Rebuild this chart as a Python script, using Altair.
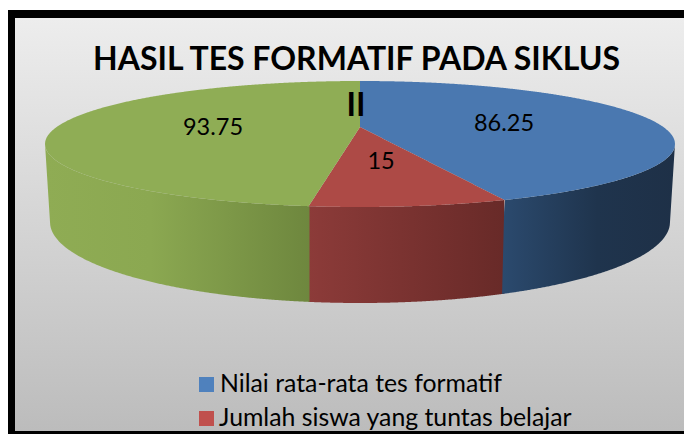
import numpy as np
import pandas as pd
import altair as alt

title_lines = ["HASIL TES FORMATIF PADA SIKLUS", "II"]
value_labels = ["86.25", "15", "93.75"]
values = [86.25, 15, 93.75]
legend_names = ["Nilai rata-rata tes formatif", "Jumlah siswa yang tuntas belajar"]

FONT = "Lato"
# pie geometry in picture pixels
CX, TOPY, A, B = 360.0, 144.0, 315.0, 63.0
LOWY, LA, LB = 222.0, 310.0, 81.0
APEXY = 127.0
K = 1.36  # perspective stretch of angles near the front

xs = alt.X("x:Q", axis=None, scale=alt.Scale(domain=[8, 684], nice=False, zero=False))
ys = alt.Y("y:Q", axis=None, scale=alt.Scale(domain=[434, 8], nice=False, zero=False))
y2 = alt.Y2("y2:Q")


def rim_x(cum):
    phi = np.radians(180.0 - cum / sum(values) * 360.0)
    return CX + A * np.sin(np.arctan(K * np.tan(phi)))


def top_back(x):
    return TOPY - B * np.sqrt(np.clip(1 - ((x - CX) / A) ** 2, 0, 1))


def top_front(x):
    return TOPY + B * np.sqrt(np.clip(1 - ((x - CX) / A) ** 2, 0, 1))


def low_front(x):
    u = (x - CX) / LA
    out = LOWY + LB * np.sqrt(np.clip(1 - u ** 2, 0, 1))
    # silhouette between the top rim tip and the bottom rim tip
    side = np.abs(x - CX) > LA
    frac = (A - np.abs(x - CX)) / (A - LA)
    return np.where(side, TOPY + (LOWY - TOPY) * frac, out)


def grid(a, b):
    g = np.unique(np.concatenate([np.arange(a, b, 1.0), [a, b]]))
    for tip in (CX - A, CX + A, CX - LA, CX + LA):
        g = np.concatenate([g, np.linspace(tip - 3, tip + 3, 25)])
    g = g[(g >= a) & (g <= b)]
    return np.unique(g)


r1 = float(rim_x(values[0]))
r2 = float(rim_x(values[0] + values[1]))
y_r1, y_r2 = float(top_front(r1)), float(top_front(r2))


def seam_low(rx):
    return CX + (rx - CX) * LA / A


def area(x, y, yy, color):
    df = pd.DataFrame({"x": x, "y": y, "y2": yy})
    return alt.Chart(df).mark_area(color=color, orient="vertical", interpolate="linear").encode(x=xs, y=ys, y2=y2)


def grad(colors, offsets=(0, 1), horizontal=True):
    stops = [alt.GradientStop(color=c, offset=o) for c, o in zip(colors, offsets)]
    if horizontal:
        return alt.LinearGradient(gradient="linear", stops=stops, x1=0, x2=1, y1=0, y2=0)
    return alt.LinearGradient(gradient="linear", stops=stops, x1=0, x2=0, y1=0, y2=1)


def rect(x, x2, y, yy, color):
    df = pd.DataFrame({"x": [x], "x2": [x2], "y": [y], "y2": [yy]})
    return alt.Chart(df).mark_rect(color=color).encode(x=xs, x2="x2:Q", y=ys, y2=y2)


# frame and background
frame = rect(8, 684, 10, 434, "#000000")
bg = rect(15, 684, 18, 431, grad(["#ededed", "#bcbcbc"], horizontal=False))

# side walls
xr = grid(r2, r1)
side_red = area(xr, top_front(xr), low_front(xr), grad(["#8c3b39", "#682a28"]))

lb = seam_low(r1)
xb = grid(lb, CX + A)
seam_y = np.where(xb < r1, y_r1 + (xb - r1) / (lb - r1) * (low_front(np.array([lb]))[0] - y_r1), top_front(xb))
side_blue = area(xb, seam_y, low_front(xb), grad(["#2b4a6e", "#1f344d", "#1e3047"], (0, 0.55, 1)))

lg = seam_low(r2)
xg = grid(CX - A, max(r2, lg))
side_green = area(xg, top_front(xg), low_front(xg), grad(["#8fac54", "#8ba851", "#6e873e"], (0, 0.4, 1)))

# top faces
xt = grid(CX, r1)
lower = APEXY + (xt - CX) / (r1 - CX) * (y_r1 - APEXY)
xt2 = grid(r1, CX + A)
blue_x = np.concatenate([xt[:-1], xt2])
blue_low = np.concatenate([lower[:-1], top_front(xt2)])
top_blue = area(blue_x, top_back(blue_x), blue_low, "#4a78b0")

xt3 = grid(CX - A, r2)
xt4 = grid(r2, CX)
green_x = np.concatenate([xt3[:-1], xt4])
line_g = y_r2 + (xt4 - r2) / (CX - r2) * (APEXY - y_r2)
green_low = np.concatenate([top_front(xt3)[:-1], line_g])
top_green = area(green_x, top_back(green_x), green_low, "#8fad55")

xm1 = grid(r2, CX)
xm2 = grid(CX, r1)
red_x = np.concatenate([xm1[:-1], xm2])
red_up = np.concatenate([
    y_r2 + (xm1[:-1] - r2) / (CX - r2) * (APEXY - y_r2),
    APEXY + (xm2 - CX) / (r1 - CX) * (y_r1 - APEXY),
])
top_red = area(red_x, red_up, top_front(red_x), "#ad4a46")


def text(df, size, weight="normal", align="center"):
    return alt.Chart(df).mark_text(
        font=FONT, fontSize=size, fontWeight=weight, color="#000000", align=align, baseline="alphabetic"
    ).encode(x=xs, y=ys, text="t:N")


titles = text(pd.DataFrame({"t": title_lines[:1], "x": [356.5], "y": [70]}), 32, "bold")
titles2 = text(pd.DataFrame({"t": title_lines[1:], "x": [356], "y": [116]}), 32, "bold")
labels = text(pd.DataFrame({"t": value_labels, "x": [504, 381, 213], "y": [131, 169, 135]}), 23.5)

legend_sw = alt.Chart(pd.DataFrame({"x": [206.5, 206.5], "y": [384.5, 418.5], "c": ["#4f81bd", "#c0504d"]})).mark_square(
    size=225, opacity=1
).encode(x=xs, y=ys, color=alt.Color("c:N", scale=None))
legend_t = text(pd.DataFrame({"t": legend_names, "x": [220, 219], "y": [392, 426]}), 24.8, align="left")

chart = alt.layer(
    frame, bg, side_red, side_blue, side_green, top_blue, top_red, top_green,
    labels, titles, titles2, legend_sw, legend_t
).properties(
    width=676, height=426, padding=0, autosize=alt.AutoSizeParams(type="none"),
    background="transparent",
).configure_view(stroke=None)

chart.save("out.html", embed_options={"renderer": "svg", "actions": False})
